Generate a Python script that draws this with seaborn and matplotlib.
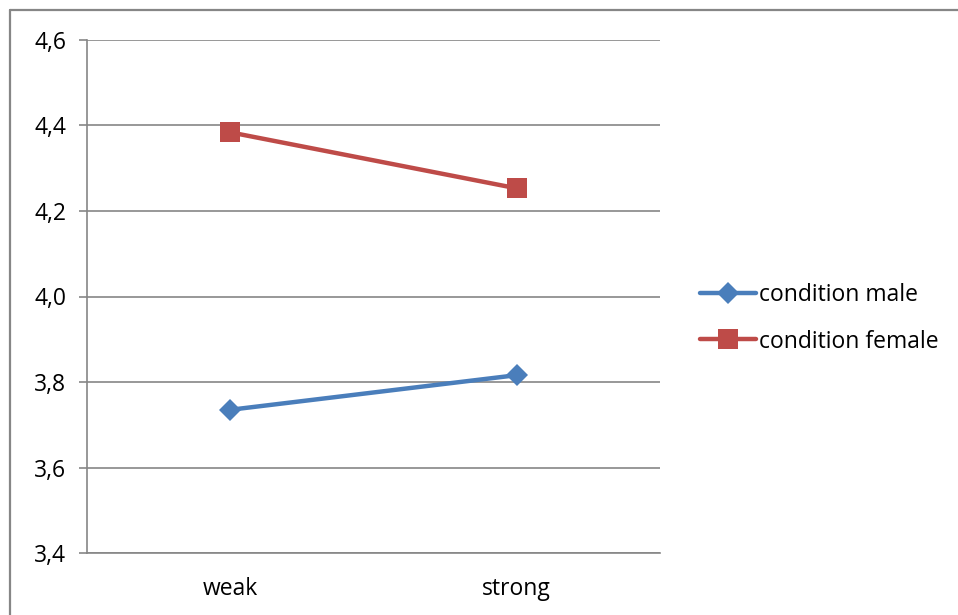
import matplotlib
matplotlib.use("Agg")
import matplotlib.pyplot as plt
from matplotlib.lines import Line2D
from matplotlib.ticker import FixedLocator, FuncFormatter
import seaborn as sns
import pandas as pd

levels = ["weak", "strong"]
male_values = [3.735, 3.816]
female_values = [4.384, 4.253]
series_names = ["condition male", "condition female"]
y_ticks = [3.4, 3.6, 3.8, 4.0, 4.2, 4.4, 4.6]

df = pd.DataFrame({
    "level": levels * 2,
    "value": male_values + female_values,
    "condition": [series_names[0]] * 2 + [series_names[1]] * 2,
})

sns.set_theme(style="white")
plt.rcParams["font.family"] = ["Open Sans", "DejaVu Sans"]
plt.rcParams["text.color"] = "black"
plt.rcParams["xtick.labelcolor"] = "black"
plt.rcParams["ytick.labelcolor"] = "black"

W, H = 958, 615
fig = plt.figure(figsize=(W / 100, H / 100), dpi=100)
ax = fig.add_axes([87 / W, (H - 553) / H, (660 - 87) / W, (553 - 40) / H])

palette = {series_names[0]: "#4A7EBB", series_names[1]: "#BE4B48"}
markers = {series_names[0]: "D", series_names[1]: "s"}

sns.lineplot(data=df, x="level", y="value", hue="condition", style="condition",
             markers=markers, dashes=False, palette=palette, linewidth=3.2,
             markersize=11, markeredgewidth=0, ax=ax)
for line in ax.lines:
    if line.get_marker() == "s":
        line.set_markersize(14)

ax.set_xlim(-0.5, 1.5)
ax.set_ylim(3.4, 4.6)
ax.set_xlabel("")
ax.set_ylabel("")

grid_color = "#868686"
font_size = 16.5
ax.yaxis.set_major_locator(FixedLocator(y_ticks))
ax.yaxis.set_major_formatter(FuncFormatter(lambda v, p: f"{v:.1f}".replace(".", ",")))
ax.grid(axis="y", color=grid_color, linewidth=1.2)
ax.set_axisbelow(True)

ax.set_xticks([0, 1])
ax.set_xticklabels(levels)
ax.set_xticks([-0.5, 0.5, 1.5], minor=True)
ax.tick_params(axis="x", which="major", length=0, pad=17, labelsize=font_size)
ax.tick_params(axis="x", which="minor", length=6, width=1.2, color=grid_color, direction="out")
ax.tick_params(axis="y", which="major", length=6, width=1.2, color=grid_color,
               direction="out", left=True, labelsize=font_size, pad=9)

for side in ["top", "right"]:
    ax.spines[side].set_visible(False)
for side in ["left", "bottom"]:
    ax.spines[side].set_color(grid_color)
    ax.spines[side].set_linewidth(1.2)

handles, labels = ax.get_legend_handles_labels()
ax.legend(handles, labels, loc="center left", bbox_to_anchor=(1 + 40 / 573, 0.458),
          frameon=False, fontsize=font_size, handlelength=2.45, handletextpad=0.12,
          labelspacing=1.0, borderaxespad=0, borderpad=0)

# chart frame: top and left edges only
fig.add_artist(Line2D([10 / W, 1], [1 - 10 / H, 1 - 10 / H], transform=fig.transFigure,
                      color=grid_color, linewidth=1.6))
fig.add_artist(Line2D([10 / W, 10 / W], [0, 1 - 10 / H], transform=fig.transFigure,
                      color=grid_color, linewidth=1.6))

fig.savefig("out.png", dpi=100, facecolor="white")
